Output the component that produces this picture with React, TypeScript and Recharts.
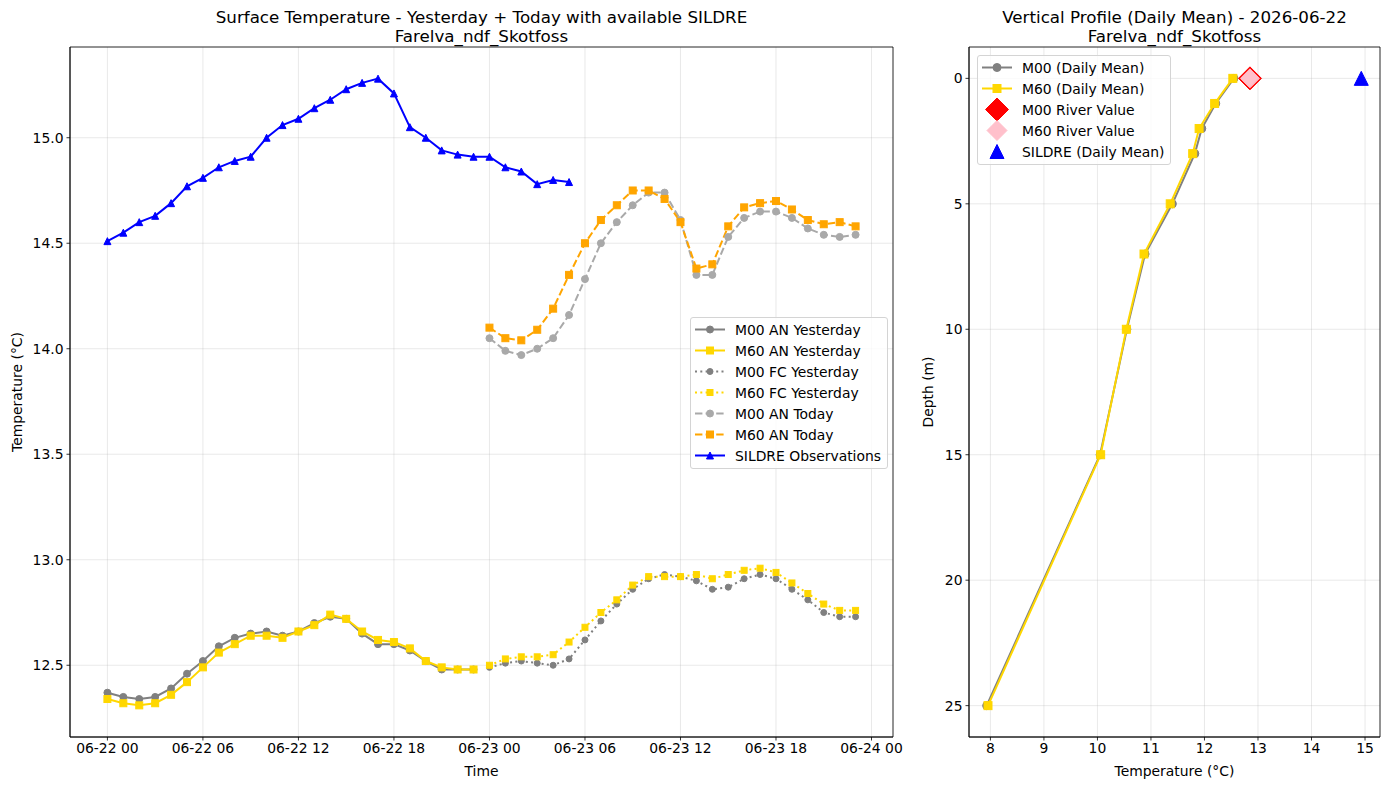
import React from 'react';
import {
    LineChart,
    Line,
    ScatterChart,
    Scatter,
    XAxis,
    YAxis,
    CartesianGrid,
    Legend,
    ReferenceArea,
} from 'recharts';

const FONT = '"DejaVu Sans", sans-serif';

// --- surface temperature (hours since 06-22 00) ---
const hoursYesterday = [0, 1, 2, 3, 4, 5, 6, 7, 8, 9, 10, 11, 12, 13, 14, 15, 16, 17, 18, 19, 20, 21, 22, 23];
const hoursToday = [24, 25, 26, 27, 28, 29, 30, 31, 32, 33, 34, 35, 36, 37, 38, 39, 40, 41, 42, 43, 44, 45, 46, 47];
const sildreHours = [0, 1, 2, 3, 4, 5, 6, 7, 8, 9, 10, 11, 12, 13, 14, 15, 16, 17, 18, 19, 20, 21, 22, 23, 24, 25, 26, 27, 28, 29];

const m00AnYesterday = [12.37, 12.35, 12.34, 12.35, 12.39, 12.46, 12.52, 12.59, 12.63, 12.65, 12.66, 12.64, 12.66, 12.70, 12.73, 12.72, 12.65, 12.60, 12.60, 12.57, 12.52, 12.48, 12.48, 12.48];
const m60AnYesterday = [12.34, 12.32, 12.31, 12.32, 12.36, 12.42, 12.49, 12.56, 12.60, 12.64, 12.64, 12.63, 12.66, 12.69, 12.74, 12.72, 12.66, 12.62, 12.61, 12.58, 12.52, 12.49, 12.48, 12.48];
const m00FcYesterday = [12.49, 12.51, 12.52, 12.51, 12.50, 12.53, 12.62, 12.71, 12.79, 12.86, 12.91, 12.93, 12.92, 12.90, 12.86, 12.87, 12.91, 12.93, 12.91, 12.86, 12.81, 12.75, 12.73, 12.73];
const m60FcYesterday = [12.50, 12.53, 12.54, 12.54, 12.55, 12.61, 12.68, 12.75, 12.81, 12.88, 12.92, 12.92, 12.92, 12.93, 12.91, 12.93, 12.95, 12.96, 12.94, 12.89, 12.84, 12.79, 12.76, 12.76];
const m00AnToday = [14.05, 13.99, 13.97, 14.00, 14.05, 14.16, 14.33, 14.50, 14.60, 14.68, 14.74, 14.74, 14.61, 14.35, 14.35, 14.53, 14.62, 14.65, 14.65, 14.62, 14.57, 14.54, 14.53, 14.54];
const m60AnToday = [14.10, 14.05, 14.04, 14.09, 14.19, 14.35, 14.50, 14.61, 14.68, 14.75, 14.75, 14.71, 14.60, 14.38, 14.40, 14.58, 14.67, 14.69, 14.70, 14.66, 14.61, 14.59, 14.60, 14.58];
const sildreObs = [14.51, 14.55, 14.60, 14.63, 14.69, 14.77, 14.81, 14.86, 14.89, 14.91, 15.00, 15.06, 15.09, 15.14, 15.18, 15.23, 15.26, 15.28, 15.21, 15.05, 15.00, 14.94, 14.92, 14.91, 14.91, 14.86, 14.84, 14.78, 14.80, 14.79];

const timeTicks = [0, 6, 12, 18, 24, 30, 36, 42, 48];
const timeTickLabels = ['06-22 00', '06-22 06', '06-22 12', '06-22 18', '06-23 00', '06-23 06', '06-23 12', '06-23 18', '06-24 00'];
const surfaceTempTicks = [12.5, 13.0, 13.5, 14.0, 14.5, 15.0];

// --- vertical profile ---
const depths = [0, 1, 2, 3, 5, 7, 10, 15, 25];
const m00Profile = [12.55, 12.21, 11.95, 11.82, 11.40, 10.89, 10.55, 10.05, 7.93];
const m60Profile = [12.53, 12.19, 11.90, 11.78, 11.36, 10.87, 10.54, 10.06, 7.955];
const m00RiverValue = 12.85;
const m60RiverValue = 12.85;
const sildreDailyMean = 14.93;
const riverDepth = 0;
const profileTempTicks = [8, 9, 10, 11, 12, 13, 14, 15];
const depthTicks = [0, 5, 10, 15, 20, 25];

const surfaceRows = [...hoursYesterday, ...hoursToday].map((h) => {
    const row: Record<string, number | null> = { hour: h };
    const yi = hoursYesterday.indexOf(h);
    const ti = hoursToday.indexOf(h);
    const si = sildreHours.indexOf(h);
    row.m00AnY = yi >= 0 ? m00AnYesterday[yi] : null;
    row.m60AnY = yi >= 0 ? m60AnYesterday[yi] : null;
    row.m00FcY = ti >= 0 ? m00FcYesterday[ti] : null;
    row.m60FcY = ti >= 0 ? m60FcYesterday[ti] : null;
    row.m00AnT = ti >= 0 ? m00AnToday[ti] : null;
    row.m60AnT = ti >= 0 ? m60AnToday[ti] : null;
    row.sildre = si >= 0 ? sildreObs[si] : null;
    return row;
});

const m00ProfileRows = depths.map((d, i) => ({ depth: d, temp: m00Profile[i] }));
const m60ProfileRows = depths.map((d, i) => ({ depth: d, temp: m60Profile[i] }));

const LEFT_X_DOMAIN: [number, number] = [-2.35, 49.35];
const LEFT_Y_DOMAIN: [number, number] = [12.16, 15.43];
const RIGHT_X_DOMAIN: [number, number] = [7.6, 15.28];
const RIGHT_Y_DOMAIN: [number, number] = [-1.25, 26.25];

const GRAY = '#808080';
const GOLD = '#FFD700';
const DARKGRAY = '#A9A9A9';
const ORANGE = '#FFA500';
const BLUE = '#0000FF';
const RED = '#FF0000';
const PINK = '#FFC0CB';

const DOTTED = '2 3.3';
const DASHED = '7.4 3.2';

type MarkerKind = 'circle' | 'square' | 'triangle' | 'diamond';

const Marker = ({ kind, cx, cy, size, fill, stroke }: { kind: MarkerKind; cx: number; cy: number; size: number; fill: string; stroke?: string }) => {
    const h = size / 2;
    const edge = stroke ?? fill;
    if (kind === 'circle') return <circle cx={cx} cy={cy} r={h} fill={fill} stroke={edge} strokeWidth={1} />;
    if (kind === 'square') return <rect x={cx - h} y={cy - h} width={size} height={size} fill={fill} stroke={edge} strokeWidth={1} />;
    if (kind === 'triangle') return <path d={`M${cx},${cy - h} L${cx + h},${cy + h} L${cx - h},${cy + h} Z`} fill={fill} stroke={edge} strokeWidth={1} />;
    return <path d={`M${cx},${cy - h} L${cx + h},${cy} L${cx},${cy + h} L${cx - h},${cy} Z`} fill={fill} stroke={edge} strokeWidth={1} />;
};

const dotRenderer = (kind: MarkerKind, size: number, color: string) => (props: any) => {
    const { cx, cy, index } = props;
    if (cx == null || cy == null || Number.isNaN(cy)) return <g key={`d-${index}`} />;
    return (
        <g key={`d-${index}`}>
            <Marker kind={kind} cx={cx} cy={cy} size={size} fill={color} />
        </g>
    );
};

const shapeRenderer = (kind: MarkerKind, size: number, fill: string, stroke?: string) => (props: any) => (
    <Marker kind={kind} cx={props.cx} cy={props.cy} size={size} fill={fill} stroke={stroke} />
);

interface LegendItem {
    label: string;
    color: string;
    marker: MarkerKind;
    markerSize: number;
    line?: string | null; // null = no line, '' = solid
    markerStroke?: string;
}

const surfaceLegend: LegendItem[] = [
    { label: 'M00 AN Yesterday', color: GRAY, marker: 'circle', markerSize: 7, line: '' },
    { label: 'M60 AN Yesterday', color: GOLD, marker: 'square', markerSize: 7, line: '' },
    { label: 'M00 FC Yesterday', color: GRAY, marker: 'circle', markerSize: 6, line: DOTTED },
    { label: 'M60 FC Yesterday', color: GOLD, marker: 'square', markerSize: 6, line: DOTTED },
    { label: 'M00 AN Today', color: DARKGRAY, marker: 'circle', markerSize: 7, line: DASHED },
    { label: 'M60 AN Today', color: ORANGE, marker: 'square', markerSize: 7, line: DASHED },
    { label: 'SILDRE Observations', color: BLUE, marker: 'triangle', markerSize: 7, line: '' },
];

const profileLegend: LegendItem[] = [
    { label: 'M00 (Daily Mean)', color: GRAY, marker: 'circle', markerSize: 8, line: '' },
    { label: 'M60 (Daily Mean)', color: GOLD, marker: 'square', markerSize: 8, line: '' },
    { label: 'M00 River Value', color: RED, marker: 'diamond', markerSize: 23, line: null },
    { label: 'M60 River Value', color: PINK, marker: 'diamond', markerSize: 20, line: null },
    { label: 'SILDRE (Daily Mean)', color: BLUE, marker: 'triangle', markerSize: 14, line: null },
];

const LegendBox = ({ items }: { items: LegendItem[] }) => (
    <div
        style={{
            border: '1px solid #d4d4d4',
            borderRadius: 3,
            background: 'rgba(255,255,255,0.8)',
            padding: '1px 6px 2px 4px',
            fontFamily: FONT,
            fontSize: 13.9,
            color: '#000',
        }}
    >
        {items.map((it) => (
            <div key={it.label} style={{ display: 'flex', alignItems: 'center', height: 21, whiteSpace: 'nowrap' }}>
                <svg width={30} height={21} style={{ marginRight: 10, overflow: 'visible' }}>
                    {it.line !== null && (
                        <line x1={0} y1={10.5} x2={30} y2={10.5} stroke={it.color} strokeWidth={2} strokeDasharray={it.line || undefined} />
                    )}
                    <Marker kind={it.marker} cx={15} cy={10.5} size={it.markerSize} fill={it.color} stroke={it.markerStroke} />
                </svg>
                <span>{it.label}</span>
            </div>
        ))}
    </div>
);

const tickStyle = { fontSize: 13.9, fill: '#000', fontFamily: FONT };
const axisLineStyle = { stroke: '#000', strokeWidth: 0.8 };

const textStyle: React.CSSProperties = { position: 'absolute', fontFamily: FONT, color: '#000', whiteSpace: 'nowrap' };

export default function App() {
    return (
        <div style={{ position: 'absolute', left: 0, top: 0, width: 1389, height: 790, background: '#fff', overflow: 'hidden' }}>
            {/* titles */}
            <div style={{ ...textStyle, left: 70, top: 8, width: 823, textAlign: 'center', fontSize: 16.7, lineHeight: '19px' }}>
                Surface Temperature - Yesterday + Today with available SILDRE
                <br />
                Farelva_ndf_Skotfoss
            </div>
            <div style={{ ...textStyle, left: 969, top: 8, width: 411, textAlign: 'center', fontSize: 16.7, lineHeight: '19px' }}>
                Vertical Profile (Daily Mean) - 2026-06-22
                <br />
                Farelva_ndf_Skotfoss
            </div>
            {/* axis titles */}
            <div style={{ ...textStyle, left: 70, top: 763, width: 823, textAlign: 'center', fontSize: 13.9 }}>Time</div>
            <div style={{ ...textStyle, left: 969, top: 763, width: 411, textAlign: 'center', fontSize: 13.9 }}>Temperature (°C)</div>
            <div style={{ ...textStyle, left: 17, top: 392, fontSize: 13.9, transform: 'translate(-50%, -50%) rotate(-90deg)' }}>
                Temperature (°C)
            </div>
            <div style={{ ...textStyle, left: 928, top: 392, fontSize: 13.9, transform: 'translate(-50%, -50%) rotate(-90deg)' }}>
                Depth (m)
            </div>

            <div style={{ position: 'absolute', left: 0, top: 0 }}>
                <LineChart width={940} height={790} data={surfaceRows} margin={{ top: 47, right: 47, bottom: 13, left: 10 }}>
                    <CartesianGrid stroke="#b0b0b0" strokeOpacity={0.35} strokeWidth={0.8} />
                    <XAxis
                        dataKey="hour"
                        type="number"
                        domain={LEFT_X_DOMAIN}
                        allowDataOverflow
                        ticks={timeTicks}
                        tickFormatter={(v: number) => timeTickLabels[timeTicks.indexOf(v)]}
                        interval={0}
                        height={40}
                        tick={tickStyle}
                        tickSize={3.5}
                        tickMargin={3}
                        tickLine={axisLineStyle}
                        axisLine={axisLineStyle}
                    />
                    <YAxis
                        type="number"
                        domain={LEFT_Y_DOMAIN}
                        allowDataOverflow
                        ticks={surfaceTempTicks}
                        tickFormatter={(v: number) => v.toFixed(1)}
                        width={60}
                        tick={tickStyle}
                        tickSize={3.5}
                        tickMargin={3}
                        tickLine={axisLineStyle}
                        axisLine={axisLineStyle}
                    />
                    <ReferenceArea
                        x1={LEFT_X_DOMAIN[0]}
                        x2={LEFT_X_DOMAIN[1]}
                        y1={LEFT_Y_DOMAIN[0]}
                        y2={LEFT_Y_DOMAIN[1]}
                        fill="none"
                        stroke="#000"
                        strokeWidth={0.8}
                        strokeOpacity={1}
                        ifOverflow="visible"
                    />
                    <Legend
                        layout="horizontal"
                        verticalAlign="middle"
                        align="center"
                        wrapperStyle={{ left: 690, top: 317, width: 'auto' }}
                        content={() => <LegendBox items={surfaceLegend} />}
                    />
                    <Line dataKey="m00AnY" stroke={GRAY} strokeWidth={2} dot={dotRenderer('circle', 7, GRAY)} activeDot={false} isAnimationActive={false} />
                    <Line dataKey="m60AnY" stroke={GOLD} strokeWidth={2} dot={dotRenderer('square', 7, GOLD)} activeDot={false} isAnimationActive={false} />
                    <Line dataKey="m00FcY" stroke={GRAY} strokeWidth={2} strokeDasharray={DOTTED} dot={dotRenderer('circle', 6, GRAY)} activeDot={false} isAnimationActive={false} />
                    <Line dataKey="m60FcY" stroke={GOLD} strokeWidth={2} strokeDasharray={DOTTED} dot={dotRenderer('square', 6, GOLD)} activeDot={false} isAnimationActive={false} />
                    <Line dataKey="m00AnT" stroke={DARKGRAY} strokeWidth={2} strokeDasharray={DASHED} dot={dotRenderer('circle', 7, DARKGRAY)} activeDot={false} isAnimationActive={false} />
                    <Line dataKey="m60AnT" stroke={ORANGE} strokeWidth={2} strokeDasharray={DASHED} dot={dotRenderer('square', 7, ORANGE)} activeDot={false} isAnimationActive={false} />
                    <Line dataKey="sildre" stroke={BLUE} strokeWidth={2} dot={dotRenderer('triangle', 7, BLUE)} activeDot={false} isAnimationActive={false} />
                </LineChart>
            </div>

            <div style={{ position: 'absolute', left: 900, top: 0 }}>
                <ScatterChart width={489} height={790} margin={{ top: 47, right: 9, bottom: 13, left: 29 }}>
                    <CartesianGrid stroke="#b0b0b0" strokeOpacity={0.35} strokeWidth={0.8} />
                    <XAxis
                        dataKey="temp"
                        type="number"
                        domain={RIGHT_X_DOMAIN}
                        allowDataOverflow
                        ticks={profileTempTicks}
                        interval={0}
                        height={40}
                        tick={tickStyle}
                        tickSize={3.5}
                        tickMargin={3}
                        tickLine={axisLineStyle}
                        axisLine={axisLineStyle}
                    />
                    <YAxis
                        dataKey="depth"
                        type="number"
                        domain={RIGHT_Y_DOMAIN}
                        reversed
                        allowDataOverflow
                        ticks={depthTicks}
                        width={40}
                        tick={tickStyle}
                        tickSize={3.5}
                        tickMargin={3}
                        tickLine={axisLineStyle}
                        axisLine={axisLineStyle}
                    />
                    <ReferenceArea
                        x1={RIGHT_X_DOMAIN[0]}
                        x2={RIGHT_X_DOMAIN[1]}
                        y1={RIGHT_Y_DOMAIN[0]}
                        y2={RIGHT_Y_DOMAIN[1]}
                        fill="none"
                        stroke="#000"
                        strokeWidth={0.8}
                        strokeOpacity={1}
                        ifOverflow="visible"
                    />
                    <Legend
                        layout="horizontal"
                        verticalAlign="middle"
                        align="center"
                        wrapperStyle={{ left: 77, top: 55, width: 'auto' }}
                        content={() => <LegendBox items={profileLegend} />}
                    />
                    <Scatter
                        data={m00ProfileRows}
                        line={{ stroke: GRAY, strokeWidth: 2 }}
                        shape={shapeRenderer('circle', 8, GRAY)}
                        isAnimationActive={false}
                    />
                    <Scatter
                        data={m60ProfileRows}
                        line={{ stroke: GOLD, strokeWidth: 2 }}
                        shape={shapeRenderer('square', 8, GOLD)}
                        isAnimationActive={false}
                    />
                    <Scatter
                        data={[{ depth: riverDepth, temp: m00RiverValue }]}
                        shape={shapeRenderer('diamond', 23, RED)}
                        isAnimationActive={false}
                    />
                    <Scatter
                        data={[{ depth: riverDepth, temp: m60RiverValue }]}
                        shape={shapeRenderer('diamond', 19, PINK)}
                        isAnimationActive={false}
                    />
                    <Scatter
                        data={[{ depth: riverDepth, temp: sildreDailyMean }]}
                        shape={shapeRenderer('triangle', 14, BLUE)}
                        isAnimationActive={false}
                    />
                </ScatterChart>
            </div>
        </div>
    );
}
